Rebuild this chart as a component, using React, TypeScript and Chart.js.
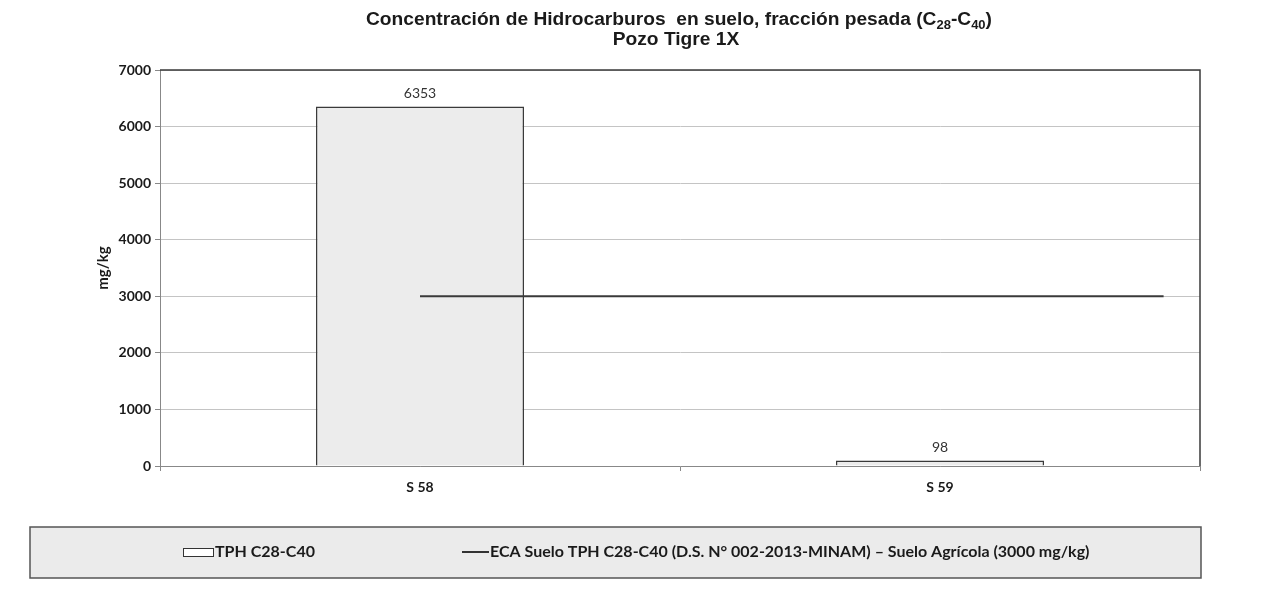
import React, { useEffect, useRef } from 'react';
import { Chart, registerables } from 'chart.js';

Chart.register(...registerables);

// ---- data ----
const titleLine1 = [
  { t: 'Concentración de Hidrocarburos  en suelo, fracción pesada (C', sub: false },
  { t: '28', sub: true },
  { t: '-C', sub: false },
  { t: '40', sub: true },
  { t: ')', sub: false },
];
const titleLine2 = 'Pozo Tigre 1X';
const categories = ['S 58', 'S 59'];
const tphLabel = 'TPH C28-C40';
const tphValues = [6353, 98];
const ecaLabel = 'ECA Suelo TPH C28-C40 (D.S. N° 002-2013-MINAM) – Suelo Agrícola (3000 mg/kg)';
const ecaX = [0.5, 1.93];
const ecaValues = [3000, 3000];
const yAxisTitle = 'mg/kg';
const yMin = 0;
const yMax = 7000;
const yStep = 1000;

const FONT = 'Lato, "Open Sans", sans-serif';

const titlePlugin = {
  id: 'richTitle',
  afterDraw(chart: any) {
    const ctx = chart.ctx;
    ctx.save();
    ctx.fillStyle = '#1a1a1a';
    ctx.textBaseline = 'middle';
    ctx.textAlign = 'left';
    const cx = 671;
    const mainFont = 'bold 19.2px "Liberation Sans", Arial, sans-serif';
    const subFont = 'bold 13px "Liberation Sans", Arial, sans-serif';
    let total = 0;
    for (const p of titleLine1) {
      ctx.font = p.sub ? subFont : mainFont;
      total += ctx.measureText(p.t).width;
    }
    let x = cx - total / 2;
    const y1 = 12;
    for (const p of titleLine1) {
      ctx.font = p.sub ? subFont : mainFont;
      ctx.fillText(p.t, x, p.sub ? y1 + 5 : y1);
      x += ctx.measureText(p.t).width;
    }
    ctx.font = mainFont;
    ctx.textAlign = 'center';
    ctx.fillText(titleLine2, cx - 3, 32);
    ctx.restore();
  },
};

const framePlugin = {
  id: 'frame',
  beforeDatasetsDraw(chart: any) {
    const { ctx, chartArea } = chart;
    ctx.save();
    ctx.strokeStyle = '#3a3a3a';
    ctx.lineWidth = 1.5;
    ctx.beginPath();
    ctx.moveTo(chartArea.left, chartArea.top);
    ctx.lineTo(chartArea.right, chartArea.top);
    ctx.lineTo(chartArea.right, chartArea.bottom);
    ctx.stroke();
    ctx.restore();
  },
};

const labelPlugin = {
  id: 'barLabels',
  afterDatasetsDraw(chart: any) {
    const ctx = chart.ctx;
    const meta = chart.getDatasetMeta(0);
    ctx.save();
    ctx.font = '14px ' + FONT;
    ctx.fillStyle = '#333';
    ctx.textAlign = 'center';
    ctx.textBaseline = 'bottom';
    meta.data.forEach((el: any, i: number) => {
      ctx.fillText(String(tphValues[i]), el.x, el.y - 6);
    });
    ctx.restore();
  },
};

const legendPlugin = {
  id: 'boxLegend',
  afterDraw(chart: any) {
    const ctx = chart.ctx;
    ctx.save();
    ctx.fillStyle = '#ebebeb';
    ctx.strokeStyle = '#555';
    ctx.lineWidth = 1.5;
    ctx.fillRect(22, 519, 1171, 51);
    ctx.strokeRect(22, 519, 1171, 51);
    const cy = 544;
    ctx.fillStyle = '#ffffff';
    ctx.strokeStyle = '#333';
    ctx.lineWidth = 1;
    ctx.fillRect(175.5, 540.5, 30, 8);
    ctx.strokeRect(175.5, 540.5, 30, 8);
    ctx.font = 'bold 16px ' + FONT;
    ctx.fillStyle = '#1a1a1a';
    ctx.textAlign = 'left';
    ctx.textBaseline = 'middle';
    ctx.fillText(tphLabel, 207, cy);
    ctx.strokeStyle = '#333';
    ctx.lineWidth = 2;
    ctx.beginPath();
    ctx.moveTo(454, cy);
    ctx.lineTo(481, cy);
    ctx.stroke();
    ctx.fillText(ecaLabel, 482, cy);
    ctx.restore();
  },
};

export default function App() {
  const ref = useRef<HTMLCanvasElement | null>(null);
  useEffect(() => {
    if (!ref.current) return;
    const chart = new Chart(ref.current, {
      type: 'bar',
      data: {
        labels: categories,
        datasets: [
          {
            type: 'bar',
            label: tphLabel,
            data: tphValues,
            backgroundColor: '#ececec',
            borderColor: '#3a3a3a',
            borderWidth: 1.5,
            barPercentage: 0.8,
            categoryPercentage: 0.5,
            grouped: false,
            xAxisID: 'x',
            yAxisID: 'y',
            order: 1,
          } as any,
          {
            type: 'line',
            label: ecaLabel,
            data: ecaX.map((x, i) => ({ x, y: ecaValues[i] })),
            borderColor: '#3a3a3a',
            borderWidth: 2,
            pointRadius: 0,
            fill: false,
            xAxisID: 'x2',
            yAxisID: 'y',
            order: 0,
          } as any,
        ],
      },
      options: {
        animation: false,
        responsive: true,
        maintainAspectRatio: false,
        layout: { padding: { left: 84, right: 55, top: 62, bottom: 91 } },
        plugins: {
          legend: { display: false },
          title: { display: false },
          tooltip: { enabled: false },
        },
        scales: {
          x: {
            type: 'category',
            offset: true,
            grid: {
              offset: true,
              drawOnChartArea: false,
              drawTicks: true,
              tickLength: 5,
              color: '#888',
            },
            border: { color: '#888', width: 1 },
            ticks: {
              padding: 8,
              color: '#1a1a1a',
              font: { family: FONT, size: 14, weight: 'bold' },
            },
            afterFit(scale: any) {
              scale.height = 30;
            },
          },
          x2: {
            type: 'linear',
            display: true,
            position: 'bottom',
            offset: false,
            min: 0,
            max: 2,
            grid: { display: false, drawTicks: false, offset: false },
            border: { display: false },
            ticks: { display: false },
            afterFit(scale: any) {
              scale.height = 0;
            },
          },
          y: {
            min: yMin,
            max: yMax,
            ticks: {
              stepSize: yStep,
              padding: 4,
              color: '#1a1a1a',
              font: { family: FONT, size: 14, weight: 'bold' },
              callback: (v: any) => String(v),
            },
            grid: {
              color: '#c4c4c4',
              tickColor: '#888',
              tickLength: 5,
              lineWidth: 1,
            },
            border: { color: '#888', width: 1 },
            title: {
              display: true,
              text: yAxisTitle,
              color: '#1a1a1a',
              padding: { top: 2, bottom: 2 },
              font: { family: FONT, size: 15, weight: 'bold' },
            },
            afterFit(scale: any) {
              scale.width = 68;
            },
          },
        },
      },
      plugins: [titlePlugin, framePlugin, labelPlugin, legendPlugin],
    });
    return () => chart.destroy();
  }, []);
  return (
    <div style={{ width: '1247px', height: '579px', position: 'relative' }}>
      <canvas ref={ref} />
    </div>
  );
}
